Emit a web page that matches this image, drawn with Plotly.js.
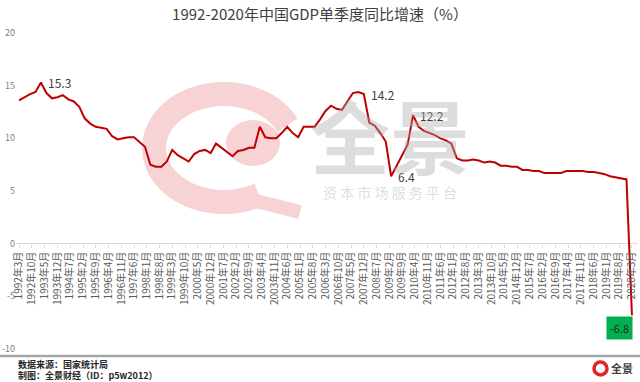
<!DOCTYPE html>
<html><head><meta charset="utf-8">
<script src="https://cdn.plot.ly/plotly-3.0.1.min.js"></script>
<style>html,body{margin:0;padding:0;background:#fff}#chart{width:640px;height:382px}</style>
</head><body><div id="chart"></div>
<script>
// Quarterly single-quarter YoY GDP growth (%), 1992Q1 .. 2020Q1
const startYear = 1992;
const quarterMonths = ['03','06','09','12'];
const gdpGrowth = [
  13.6, 13.9, 14.2, 14.4,   // 1992
  15.3, 14.3, 13.8, 13.9,   // 1993
  14.1, 13.7, 13.5, 13.0,   // 1994
  11.9, 11.4, 11.1, 11.0,   // 1995
  10.9, 10.2, 9.9, 10.0,    // 1996
  10.1, 10.1, 9.6, 9.2,     // 1997
  7.5, 7.3, 7.3, 7.8,       // 1998
  8.9, 8.4, 8.1, 7.8,       // 1999
  8.5, 8.8, 8.9, 8.6,       // 2000
  9.5, 9.1, 8.7, 8.3,       // 2001
  8.8, 8.9, 9.1, 9.1,       // 2002
  11.1, 10.1, 10.0, 10.0,   // 2003
  10.5, 11.1, 10.5, 10.1,   // 2004
  11.1, 11.1, 11.1, 11.8,   // 2005
  12.6, 13.1, 12.8, 12.7,   // 2006
  13.5, 14.3, 14.4, 14.2,   // 2007
  11.5, 11.2, 10.5, 9.7,    // 2008
  6.4, 7.4, 8.4, 9.4,       // 2009
  12.2, 11.1, 10.7, 10.5,   // 2010
  10.3, 10.0, 9.8, 9.5,     // 2011
  8.1, 7.9, 7.9, 8.0,       // 2012
  7.9, 7.7, 7.8, 7.7,       // 2013
  7.4, 7.4, 7.3, 7.3,       // 2014
  7.0, 7.0, 6.9, 6.9,       // 2015
  6.7, 6.7, 6.7, 6.7,       // 2016
  6.9, 6.9, 6.9, 6.9,       // 2017
  6.8, 6.8, 6.7, 6.6,       // 2018
  6.4, 6.3, 6.2, 6.1,       // 2019
  -6.8                      // 2020
];
const quarterDates = gdpGrowth.map((v, i) =>
  (startYear + Math.floor(i / 4)) + '-' + quarterMonths[i % 4] + '-01');

const labelledIdx = [4, 63, 68, 72];   // 15.3, 14.2, 6.4, 12.2
const lastIdx = gdpGrowth.length - 1;  // -6.8

const yTickVals = [-10, -5, 0, 5, 10, 15, 20];
const yTickText = ['-10', '-5', '0', '5', '10', '15', '20'];

const titleText = '1992-2020年中国GDP单季度同比增速（%）';
const sourceText = '数据来源：国家统计局';
const makerText = '制图：全景财经（ID：p5w2012）';

// geometry helpers for decoration (paper coords)
const W = 640, H = 382, ML = 16, MR = 2, MT = 33, MB = 33;
const PW = W - ML - MR, PH = H - MT - MB;
const px = p => (p - ML) / PW;
const py = p => (H - MB - p) / PH;

function arcPath(cx, cy, rx, ry, a0, a1, n) {
  let d = '';
  for (let k = 0; k <= n; k++) {
    const a = (a0 + (a1 - a0) * k / n) * Math.PI / 180;
    const x = px(cx + rx * Math.cos(a));
    const y = py(cy + ry * Math.sin(a));
    d += (k === 0 ? 'M' : 'L') + x.toFixed(4) + ',' + y.toFixed(4);
  }
  return d;
}

const FONT = '"Noto Sans CJK SC", "Noto Sans", sans-serif';
const pink = '#f7d3d6';

const shapes = [
  // watermark swirl
  {type: 'path', xref: 'paper', yref: 'paper', layer: 'below',
   path: arcPath(224, 148, 70, 54, -25, -300, 60),
   line: {color: pink, width: 24}},
  {type: 'path', xref: 'paper', yref: 'paper', layer: 'below',
   path: 'M' + px(252) + ',' + py(200) + 'L' + px(300) + ',' + py(212),
   line: {color: pink, width: 14}},
  {type: 'circle', xref: 'paper', yref: 'paper', layer: 'below',
   x0: px(226), x1: px(280), y0: py(166), y1: py(120),
   fillcolor: pink, line: {width: 0}},
  // footer rule
  {type: 'line', xref: 'paper', yref: 'paper', x0: px(0), x1: px(640),
   y0: py(356), y1: py(356), line: {color: '#a6a6a6', width: 2.5}},
  // logo
  {type: 'circle', xref: 'paper', yref: 'paper', x0: px(594), x1: px(607),
   y0: py(375), y1: py(362), line: {color: '#e0222a', width: 3.5}}
];

const annotations = [];
labelledIdx.forEach(i => {
  annotations.push({x: quarterDates[i], y: gdpGrowth[i], xref: 'x', yref: 'y',
    text: gdpGrowth[i].toFixed(1), showarrow: false, xanchor: 'left', yanchor: 'middle',
    xshift: 5, font: {family: FONT, size: 12, color: '#404040'}});
});
annotations.push({x: quarterDates[lastIdx], y: gdpGrowth[lastIdx], xref: 'x', yref: 'y',
  text: gdpGrowth[lastIdx].toFixed(1), showarrow: false, xanchor: 'right', yanchor: 'top',
  xshift: 1, yshift: -1, bgcolor: '#00B050', borderpad: 3,
  font: {family: FONT, size: 11, color: '#262626'}});
// watermark text
annotations.push({xref: 'paper', yref: 'paper', x: px(390), y: py(133), text: '<b>全景</b>',
  showarrow: false, xanchor: 'center', yanchor: 'middle',
  font: {family: FONT, size: 80, color: 'rgba(170,170,170,0.40)'}});
annotations.push({xref: 'paper', yref: 'paper', x: px(390), y: py(192),
  text: '资 本 市 场 服 务 平 台', showarrow: false, xanchor: 'center', yanchor: 'middle',
  font: {family: FONT, size: 14, color: 'rgba(170,170,170,0.40)'}});
// footer text
annotations.push({xref: 'paper', yref: 'paper', x: px(16), y: py(364), text: '<b>' + sourceText + '</b>',
  showarrow: false, xanchor: 'left', yanchor: 'middle',
  font: {family: FONT, size: 9, color: '#262626'}});
annotations.push({xref: 'paper', yref: 'paper', x: px(16), y: py(375), text: '<b>' + makerText + '</b>',
  showarrow: false, xanchor: 'left', yanchor: 'middle',
  font: {family: FONT, size: 9, color: '#262626'}});
annotations.push({xref: 'paper', yref: 'paper', x: px(609), y: py(368), text: '<b>全景</b>',
  showarrow: false, xanchor: 'left', yanchor: 'middle',
  font: {family: FONT, size: 11, color: '#404040'}});

const trace = {
  type: 'scatter', mode: 'lines', x: quarterDates, y: gdpGrowth,
  line: {color: '#C00000', width: 2}, hoverinfo: 'skip', showlegend: false
};

const layout = {
  width: W, height: H,
  margin: {l: ML, r: MR, t: MT, b: MB, pad: 0},
  paper_bgcolor: '#fff', plot_bgcolor: 'rgba(0,0,0,0)',
  font: {family: FONT},
  title: {text: titleText, x: 0.5, xref: 'container', y: 1 - 15 / H, yref: 'container',
          xanchor: 'center', yanchor: 'middle',
          font: {family: FONT, size: 15, color: '#404040'}},
  xaxis: {type: 'date', range: ['1992-01-10', '2020-06-10'],
          tick0: '1992-03-01', dtick: 'M7', tickformat: '%Y年%-m月',
          tickangle: -90, tickfont: {family: FONT, size: 10, color: '#595959'},
          anchor: 'free', position: 1 / 3, showgrid: false, showline: false, zeroline: false,
          ticks: 'outside', ticklen: 3, tickcolor: '#d9d9d9', tickwidth: 1},
  yaxis: {range: [-10, 20], tickvals: yTickVals, ticktext: yTickText,
          tickfont: {family: FONT, size: 9, color: '#7f7f7f'},
          showgrid: false, showline: false, ticks: '',
          zeroline: true, zerolinecolor: '#d9d9d9', zerolinewidth: 1},
  shapes: shapes, annotations: annotations
};

Plotly.newPlot('chart', [trace], layout, {staticPlot: true, displayModeBar: false});
</script>
</body></html>
